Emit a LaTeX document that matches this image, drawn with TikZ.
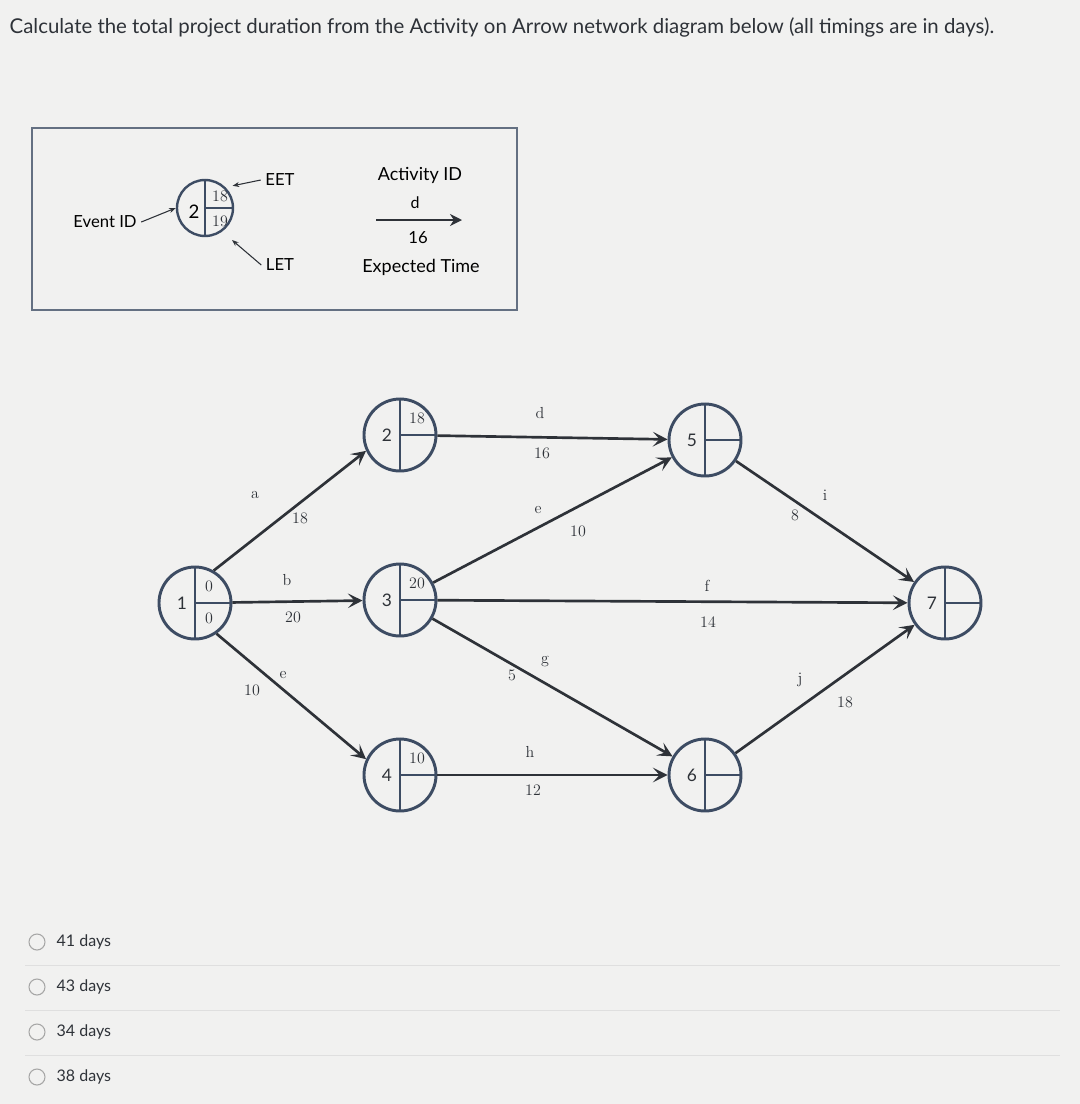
\documentclass[tikz,border=0pt]{standalone}
\usepackage{fontspec}
\setmainfont{Lato}
\newfontfamily\serifnum{Latin Modern Roman}
\usetikzlibrary{arrows.meta}
\definecolor{bg}{HTML}{F1F1F0}
\definecolor{ln}{HTML}{2E3238}
\definecolor{cb}{HTML}{3D4C63}
\tikzset{
  x=0.75pt, y=-0.75pt,
  ev/.style={circle, draw=cb, line width=2.2pt, minimum size=72*0.75pt, inner sep=0pt},
  arr/.style={draw=ln, line width=2pt, -{Stealth[length=11pt,width=11pt,inset=5pt]}},
  num/.style={font=\serifnum\fontsize{12}{12}\selectfont, text=ln},
  idn/.style={font=\fontsize{13}{13}\selectfont, text=ln},
  lab/.style={font=\serifnum\fontsize{12}{12}\selectfont, text=ln},
}
\newcommand{\evt}[5]{% name, x, y, id, eet/let
  \node[ev] (#1) at (#2,#3) {};
  \draw[cb, line width=1.6pt] (#1.north) -- (#1.south) (#2,#3) -- (#1.east);
  \node[idn] at ([xshift=-13*0.75pt]#1.center) {#4};
  #5
}
\begin{document}
\begin{tikzpicture}
\fill[bg] (0,0) rectangle (1080,1104);
\useasboundingbox (0,0) rectangle (1080,1104);
\node[anchor=west, font=\fontsize{15.3}{17}\selectfont, text=ln] (title) at (5,27) {Calculate the total project duration from the Activity on Arrow network diagram below (all timings are in days).};

% legend
\draw[cb!80, line width=2.2pt] (32,128) rectangle (517,310);
\node[circle, draw=cb, line width=1.8pt, minimum size=56*0.75pt, inner sep=0pt] (L) at (205,208) {};
\draw[cb, line width=1.3pt] (L.north) -- (L.south) (205,208) -- (L.east);
\node[font=\fontsize{14}{14}\selectfont] at (194,212) {2};
\node[num, font=\serifnum\fontsize{12}{12}\selectfont] (l18) at (220,196) {18};
\node[num, font=\serifnum\fontsize{12}{12}\selectfont] (l19) at (220,221) {19};
\node[font=\fontsize{12.5}{13}\selectfont] (eid) at (105,222) {Event ID};
\draw[ln, line width=0.8pt, -{Stealth[length=5pt]}] (eid.east) -- (L.west);
\node[font=\fontsize{12.5}{13}\selectfont] (eet) at (280,180) {EET};
\draw[ln, line width=0.8pt, -{Stealth[length=5pt]}] (eet.west) -- (l18.north east);
\node[font=\fontsize{12.5}{13}\selectfont] (let) at (280,265) {LET};
\coordinate (letend) at (232,240);
\draw[ln, line width=0.8pt, -{Stealth[length=5pt]}] (let.west) -- (letend);
\node[font=\fontsize{13.5}{14}\selectfont] at (420,175) {Activity ID};
\coordinate (la) at (376,220); \coordinate (lb) at (462,220);
\draw[arr, line width=1.6pt, -{Stealth[length=9pt,width=9pt]}] (la) -- (lb);
\node[font=\fontsize{12}{12}\selectfont] at (415,203) {d};
\node[font=\fontsize{12.5}{13}\selectfont] at (418,238) {16};
\node[font=\fontsize{13.5}{14}\selectfont] at (421,267) {Expected Time};

% events
\evt{n1}{195}{603}{1}{\node[num] at (209,586) {0}; \node[num] at (209,618) {0};}
\evt{n2}{400}{435}{2}{\node[num] at (417,418) {18};}
\evt{n3}{400}{600}{3}{\node[num] at (417,583) {20};}
\evt{n4}{400}{775}{4}{\node[num] at (417,758) {10};}
\evt{n5}{705}{440}{5}{}
\evt{n6}{705}{775}{6}{}
\evt{n7}{945}{603}{7}{}

% activities
\draw[arr] (n1.60) -- (n2.205);
\draw[arr] (n1) -- (n3);
\draw[arr] (n1.-55) -- (n4.155);
\draw[arr] (n2) -- (n5);
\draw[arr] (n3) -- (n5);
\draw[arr] (n3) -- (n7);
\draw[arr] (n3) -- (n6);
\draw[arr] (n4) -- (n6);
\draw[arr] (n5) -- (n7);
\draw[arr] (n6) -- (n7);

\node[lab] at (255,495) {a}; \node[lab] at (300,518) {18};
\node[lab] at (287,580) {b}; \node[lab] at (293,617) {20};
\node[lab] at (283,675) {e}; \node[lab] at (252,690) {10};
\node[lab] at (540,413) {d}; \node[lab] at (542,453) {16};
\node[lab] at (538,510) {e}; \node[lab] at (578,531) {10};
\node[lab] at (707,586) {f}; \node[lab] at (708,622) {14};
\node[lab] at (545,662) {g}; \node[lab] at (512,675) {5};
\node[lab] at (530,752) {h}; \node[lab] at (533,790) {12};
\node[lab] at (825,495) {i}; \node[lab] at (795,515) {8};
\node[lab] at (800,680) {j}; \node[lab] at (845,702) {18};

% options
\foreach \yy/\t in {942/41 days, 987/43 days, 1032/34 days, 1077/38 days}{
  \draw[gray!70, line width=0.8pt] (37,\yy) circle (8);
  \node[anchor=west, font=\fontsize{12}{12}\selectfont, text=ln] at (52,\yy) {\t};
}
\foreach \yy in {965,1010,1055}{
  \draw[gray!25, line width=0.6pt] (25,\yy) -- (1060,\yy);
}
\end{tikzpicture}
\end{document}
